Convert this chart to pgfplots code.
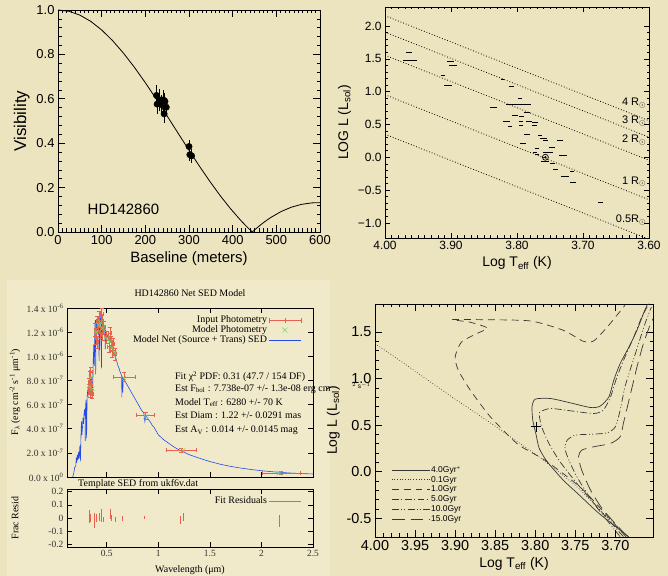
\documentclass[border=0pt]{standalone}
\usepackage{pgfplots}
\pgfplotsset{compat=1.18}
\usepackage{fontspec}
\setmainfont{Liberation Sans}
\newfontfamily\serif{Liberation Serif}
\definecolor{bg}{RGB}{236,227,191}
\definecolor{bgsed}{RGB}{240,233,202}
\definecolor{sedred}{RGB}{232,96,78}
\definecolor{sedblue}{RGB}{35,75,235}
\definecolor{sedgreen}{RGB}{110,215,100}
\definecolor{iso}{RGB}{55,55,55}
\pgfplotsset{
  base/.style={scale only axis, anchor=south west,
    axis line style={black, line width=0.8pt},
    every tick/.style={black, line width=0.6pt},
    tick align=inside,
    /pgf/number format/assume math mode=true},
}
\begin{document}
\begin{tikzpicture}[x=1bp,y=1bp]
\path[use as bounding box] (0,0) rectangle (668,576);
\fill[bg] (0,0) rectangle (668,576);
\fill[bgsed] (7,0) rectangle (330,296);

% ================= SED main =================
\begin{axis}[base, at={(67bp,99bp)}, width=246bp, height=169bp,
  xmin=0.115, xmax=2.5, ymin=0, ymax=14,
  xtick={0.5,1,1.5,2,2.5}, xticklabels={},
  ytick={0,2,4,6,8,10,12,14},
  yticklabels={0.0 x 10\textsuperscript{0},2.0 x 10\textsuperscript{-7},4.0 x 10\textsuperscript{-7},6.0 x 10\textsuperscript{-7},8.0 x 10\textsuperscript{-7},1.0 x 10\textsuperscript{-6},1.2 x 10\textsuperscript{-6},1.4 x 10\textsuperscript{-6}},
  tick label style={font=\serif\fontsize{9.5}{10}\selectfont, text=black!80},
  major tick length=5bp,
  legend style={at={(rel axis cs:0.965,0.975)}, anchor=north east, draw=none, fill=none,
     font=\serif\fontsize{10}{10}\selectfont, row sep=-1.5bp, nodes={inner sep=1.5bp}},
  legend cell align=right, legend plot pos=right,
  legend image code/.code={\draw[#1] (0bp,0bp) -- (32bp,0bp);},
]
\addplot[sedblue, line width=0.6pt, forget plot] coordinates {
(0.17,0.0)(0.18,0.3)(0.19,0.8)(0.20,0.9)(0.205,1.6)(0.21,1.2)(0.215,1.8)(0.22,1.4)(0.225,2.1)(0.23,1.5)
(0.235,1.9)(0.24,2.6)(0.245,1.3)(0.25,3.2)(0.255,4.6)(0.26,3.5)(0.265,4.1)(0.27,4.9)(0.275,4.4)(0.28,5.2)
(0.285,5.6)(0.29,5.1)(0.292,3.0)(0.295,5.9)(0.30,6.4)(0.305,3.2)(0.31,6.6)(0.315,7.1)(0.32,6.8)(0.325,7.4)
(0.33,8.0)(0.335,7.3)(0.34,8.2)(0.345,8.6)(0.35,7.8)(0.355,8.3)(0.36,7.0)(0.365,7.6)(0.37,9.8)(0.375,11.0)
(0.38,9.2)(0.385,12.5)(0.39,13.0)(0.393,8.5)(0.396,12.8)(0.40,13.1)(0.405,12.2)(0.41,12.9)(0.415,11.8)
(0.42,13.0)(0.424,12.4)(0.426,9.6)(0.428,12.9)(0.43,13.2)(0.434,10.5)(0.437,13.0)(0.44,13.3)(0.445,12.8)
(0.448,13.1)(0.45,9.0)(0.452,13.0)(0.455,12.6)(0.46,12.9)(0.47,12.3)(0.48,12.5)(0.486,10.6)(0.49,12.1)
(0.50,11.9)(0.51,11.6)(0.52,11.7)(0.53,11.2)(0.54,11.3)(0.55,10.9)(0.56,10.6)(0.57,10.4)(0.58,10.0)
(0.59,9.8)(0.60,9.5)(0.61,9.2)(0.62,9.0)(0.63,8.7)(0.645,8.4)(0.647,6.6)(0.65,8.3)(0.656,7.0)(0.66,8.2)
(0.68,7.9)(0.70,7.6)(0.72,7.3)(0.74,7.0)(0.76,6.7)(0.78,6.4)(0.80,6.1)(0.82,5.8)(0.84,5.5)(0.86,5.3)
(0.87,4.6)(0.88,5.1)(0.90,4.8)(0.92,4.6)(0.94,4.3)(0.96,4.1)(0.98,3.8)(1.0,3.5)(1.05,3.1)(1.1,2.8)
(1.15,2.5)(1.2,2.25)(1.25,2.05)(1.3,1.85)(1.35,1.7)(1.4,1.55)(1.5,1.28)(1.6,1.06)(1.7,0.88)(1.8,0.74)
(1.9,0.62)(2.0,0.52)(2.1,0.44)(2.2,0.37)(2.3,0.32)(2.4,0.28)(2.5,0.25)};
\addplot[draw=none, mark=none,
  legend image code/.code={\draw[sedred, line width=0.6pt] (0bp,0bp)--(32bp,0bp) (0bp,-2.5bp)--(0bp,2.5bp) (32bp,-2.5bp)--(32bp,2.5bp) (16bp,-2.5bp)--(16bp,2.5bp);},
  error bars/.cd, x dir=both, x explicit, y dir=both, y explicit,
  error bar style={draw=sedred, solid, line width=0.5pt}, error mark options={draw=sedred, rotate=90}]
 coordinates {
(0.325,7.3) +- (0.008,0.4) (0.330,7.8) +- (0.008,0.4) (0.335,8.4) +- (0.008,0.4) (0.338,7.0) +- (0.01,0.4)
(0.345,8.7) +- (0.01,0.4) (0.35,7.6) +- (0.01,0.4) (0.36,6.9) +- (0.01,0.4)
(0.39,12.2) +- (0.01,0.5) (0.40,11.5) +- (0.01,0.5) (0.405,12.8) +- (0.01,0.5) (0.41,11.2) +- (0.012,0.5)
(0.42,12.5) +- (0.012,0.5) (0.43,13.2) +- (0.012,0.5) (0.44,12.0) +- (0.012,0.5) (0.45,13.5) +- (0.012,0.5)
(0.455,12.9) +- (0.012,0.5) (0.46,11.8) +- (0.012,0.5) (0.47,12.4) +- (0.015,0.5) (0.50,11.6) +- (0.015,0.5)
(0.52,10.8) +- (0.015,0.5) (0.53,11.9) +- (0.015,0.5) (0.54,11.2) +- (0.015,0.5) (0.55,10.4) +- (0.015,0.5)
(0.56,11.0) +- (0.015,0.5) (0.58,10.2) +- (0.015,0.5)
(0.668,8.3) +- (0.104,0.4) (0.877,5.1) +- (0.088,0.3) (1.22,2.2) +- (0.145,0.15) (2.19,0.35) +- (0.185,0.1)};
\addlegendentry{Input Photometry}
\addplot[sedgreen, only marks, mark=x, mark size=3bp, line width=0.5pt,
  legend image code/.code={\draw[sedgreen, line width=0.5pt, only marks, mark=x, mark size=3.5bp] plot coordinates {(16bp,0bp)};}] coordinates {
(0.33,7.5)(0.345,8.2)(0.36,7.3)(0.40,12.0)(0.42,12.6)(0.44,12.8)(0.46,12.3)(0.50,11.5)(0.53,11.2)
(0.55,10.7)(0.58,10.3)(0.668,8.2)(0.877,5.0)(1.24,2.2)(2.17,0.33)};
\addlegendentry{Model Photometry}
\addlegendimage{sedblue, line width=0.7pt}
\addlegendentry{Model Net (Source + Trans) SED}
\end{axis}
\node[font=\serif\fontsize{10}{10}\selectfont] at (190,283) {HD142860 Net SED Model};
\node[rotate=90, font=\serif\fontsize{10}{10}\selectfont] at (15,184) {F\textsubscript{λ} (erg cm\textsuperscript{-2} s\textsuperscript{-1} μm\textsuperscript{-1})};
\begin{scope}[every node/.style={anchor=base west, font=\serif\fontsize{10}{10}\selectfont, inner sep=0}]
\node at (175,196) {Fit χ\textsuperscript{2} PDF: 0.31 (47.7 / 154 DF)};
\node at (175,184.5) {Est F\textsubscript{bol} : 7.738e-07 +/- 1.3e-08 erg cm\textsuperscript{-2} s\textsuperscript{-1}};
\node at (175,170.5) {Model T\textsubscript{eff} : 6280 +/- 70 K};
\node at (175,157) {Est Diam : 1.22 +/- 0.0291 mas};
\node at (175,143.3) {Est A\textsubscript{V} : 0.014 +/- 0.0145 mag};
\node at (78,89) {Template SED from ukf6v.dat};
\end{scope}

% ================= residuals =================
\begin{axis}[base, at={(67bp,29bp)}, width=246bp, height=58bp,
  xmin=0.115, xmax=2.5, ymin=-0.22, ymax=0.22,
  xtick={0.5,1,1.5,2,2.5}, xticklabels={0.5,1,1.5,2,2.5},
  ytick={-0.2,-0.1,0,0.1,0.2}, yticklabels={-0.2,-0.1,0,0.1,0.2},
  tick label style={font=\serif\fontsize{9.5}{10}\selectfont, text=black!80},
  major tick length=5bp,
  legend style={at={(rel axis cs:0.965,0.93)}, anchor=north east, draw=none, fill=none,
     font=\serif\fontsize{10}{10}\selectfont, nodes={inner sep=1.5bp}},
  legend cell align=right, legend plot pos=right,
  legend image code/.code={\draw[sedred, line width=0.6pt] (0bp,0bp) -- (32bp,0bp);},
]
\addplot[draw=none, mark=none, error bars/.cd, y dir=both, y explicit, error mark=none,
  error bar style={draw=sedred, solid, line width=0.8pt}] coordinates {
(0.33,0.01) +- (0,0.05) (0.345,0.0) +- (0,0.03) (0.385,-0.02) +- (0,0.055) (0.40,0.0) +- (0,0.03)
(0.43,0.01) +- (0,0.03) (0.45,0.02) +- (0,0.05) (0.47,-0.01) +- (0,0.02) (0.535,0.03) +- (0,0.04)
(0.55,0.0) +- (0,0.02) (0.58,-0.01) +- (0,0.02) (0.65,-0.005) +- (0,0.02) (0.87,0.005) +- (0,0.01)
(1.21,-0.015) +- (0,0.03) (1.245,0.005) +- (0,0.03) (2.17,-0.025) +- (0,0.045)};
\addlegendentry{Fit Residuals}
\end{axis}
\node[font=\serif\fontsize{10}{10}\selectfont] at (190,6) {Wavelength (μm)};
\node[rotate=90, font=\serif\fontsize{10}{10}\selectfont] at (15,58) {Frac Resid};

% ================= bottom-right isochrones =================
\fill[bg] (330,0) rectangle (668,296);
\begin{axis}[base, at={(375bp,39bp)}, width=278bp, height=233bp,
  x dir=reverse, xmin=3.653, xmax=4.0, ymin=-0.7, ymax=1.8,
  xtick={3.70,3.75,3.80,3.85,3.90,3.95,4.00}, ytick={-0.5,0,0.5,1,1.5},
  xticklabel style={/pgf/number format/.cd, fixed, fixed zerofill, precision=2},
  yticklabel style={/pgf/number format/.cd, fixed, fixed zerofill, precision=1},
  minor tick num=4, major tick length=7bp, minor tick length=3.5bp,
  tick label style={font=\fontsize{14.5}{14.5}\selectfont},
  label style={font=\fontsize{14}{14}\selectfont},
  xlabel={Log T\textsubscript{eff} (K)}, ylabel={Log L (L\textsubscript{sol})},
  legend style={at={(rel axis cs:0.047,0.318)}, anchor=north west, draw=none, fill=none,
     font=\fontsize{8.5}{9}\selectfont, row sep=0bp, nodes={inner sep=1.2bp}},
  legend cell align=left,
  legend image code/.code={\draw[#1] (0bp,0bp) -- (38bp,0bp);},
]
\addplot[iso, line width=0.7pt, smooth, tension=0.4] coordinates {
(3.683,-0.70)(3.72,-0.45)(3.745,-0.25)(3.765,-0.09)(3.785,0.107)(3.795,0.25)(3.799,0.40)(3.803,0.55)
(3.804,0.696)(3.800,0.779)(3.781,0.786)(3.756,0.739)(3.731,0.689)(3.719,0.704)(3.708,0.804)(3.702,0.982)
(3.694,1.161)(3.683,1.339)(3.673,1.518)(3.665,1.696)(3.660,1.796)};
\addlegendentry{4.0Gyr$^*$}
\addplot[iso, line width=0.7pt, dash pattern=on 0.7pt off 2pt, smooth] coordinates {
(4.00,1.375)(3.965,1.17)(3.931,0.964)(3.90,0.78)(3.867,0.589)(3.831,0.375)(3.790,0.125)(3.748,-0.161)
(3.715,-0.446)(3.685,-0.69)};
\addlegendentry{0.1Gyr}
\addplot[iso, line width=0.7pt, dash pattern=on 7pt off 5pt, smooth, tension=0.4] coordinates {
(3.687,-0.696)(3.740,-0.196)(3.785,0.107)(3.806,0.214)(3.823,0.304)(3.856,0.589)(3.881,0.875)(3.896,1.089)
(3.900,1.232)(3.892,1.393)(3.873,1.482)(3.860,1.543)(3.881,1.604)(3.904,1.632)(3.869,1.632)(3.806,1.618)
(3.765,1.518)(3.740,1.400)(3.727,1.404)(3.710,1.554)(3.688,1.786)};
\addlegendentry{1.0Gyr}
\addplot[iso, line width=0.7pt, dash pattern=on 7pt off 2.5pt on 1pt off 2.5pt, smooth, tension=0.4] coordinates {
(3.690,-0.696)(3.723,-0.375)(3.748,-0.125)(3.769,0.107)(3.783,0.304)(3.792,0.482)(3.795,0.607)(3.794,0.643)
(3.781,0.679)(3.756,0.654)(3.727,0.625)(3.715,0.661)(3.706,0.804)(3.698,1.018)(3.688,1.232)(3.677,1.446)
(3.667,1.661)(3.658,1.804)};
\addlegendentry{5.0Gyr}
\addplot[iso, line width=0.7pt, dash pattern=on 7pt off 2.5pt on 1pt off 2pt on 1pt off 2.5pt, smooth, tension=0.4] coordinates {
(3.694,-0.696)(3.727,-0.339)(3.748,-0.054)(3.758,0.125)(3.763,0.25)(3.760,0.339)(3.750,0.393)(3.727,0.404)
(3.710,0.418)(3.700,0.482)(3.694,0.661)(3.688,0.911)(3.679,1.161)(3.671,1.375)(3.663,1.589)(3.655,1.768)};
\addlegendentry{10.0Gyr}
\addplot[iso, line width=0.7pt, dash pattern=on 13pt off 6pt, smooth, tension=0.4] coordinates {
(3.685,-0.696)(3.715,-0.411)(3.731,-0.196)(3.742,0.018)(3.746,0.161)(3.742,0.232)(3.727,0.268)(3.706,0.304)
(3.694,0.375)(3.690,0.518)(3.685,0.696)(3.679,0.911)(3.673,1.125)(3.665,1.375)(3.656,1.589)(3.653,1.64)};
\addlegendentry{15.0Gyr}
\addplot[black, only marks, mark=+, mark size=5bp, line width=0.7pt, forget plot] coordinates {(3.7988,0.482)};
\end{axis}
\node[font=\fontsize{6.5}{7}\selectfont, anchor=west, inner sep=0] at (352,190) {$^{2}$ s$^{-1}$};

% ================= top-left visibility =================
\begin{axis}[base, at={(58bp,344bp)}, width=262bp, height=222bp,
  xmin=0, xmax=600, ymin=0, ymax=1,
  xtick={0,100,200,300,400,500,600}, ytick={0,0.2,0.4,0.6,0.8,1.0},
  minor x tick num=9, minor y tick num=4,
  major tick length=7bp, minor tick length=3.5bp,
  yticklabel style={/pgf/number format/.cd, fixed, fixed zerofill, precision=1},
  tick label style={font=\fontsize{13}{13}\selectfont},
  xlabel={Baseline (meters)}, ylabel={Visibility},
  xlabel style={font=\fontsize{15}{15}\selectfont},
  ylabel style={font=\fontsize{17}{17}\selectfont},
]
\addplot[black, line width=0.8pt] coordinates {
(0,1)(25,0.9942)(50,0.9770)(75,0.9488)(100,0.9101)(125,0.8620)(150,0.8055)(175,0.7418)(200,0.6724)
(225,0.5987)(250,0.5224)(275,0.4450)(300,0.3681)(325.2,0.2926)(348.4,0.2261)(371.6,0.1633)(394.9,0.1054)
(418.1,0.0531)(429.7,0.0291)(441.3,0.0067)(445,0)(452.9,0.0140)(464.5,0.0330)(476.2,0.0504)(487.8,0.0660)
(511.0,0.0922)(534.2,0.1116)(557.5,0.1244)(580.7,0.1310)(600,0.1322)};
\addplot[black, only marks, mark=*, mark size=3.2bp, error bars/.cd, y dir=both, y explicit,
  error mark=none, error bar style={line width=1pt}] coordinates {
(225.5,0.615) +- (0,0.045) (227,0.576) +- (0,0.045) (233,0.595) +- (0,0.05) (237,0.573) +- (0,0.045)
(241,0.595) +- (0,0.045) (245,0.588) +- (0,0.04) (248,0.562) +- (0,0.04) (243,0.532) +- (0,0.04)
(300,0.385) +- (0,0.03) (302,0.348) +- (0,0.03) (306,0.343) +- (0,0.03)};
\node[anchor=west, font=\fontsize{15}{15}\selectfont] at (axis cs:60,0.10) {HD142860};
\end{axis}

% ================= top-right HR diagram =================
\begin{axis}[base, at={(385bp,338bp)}, width=264bp, height=231bp,
  x dir=reverse, xmin=3.6, xmax=4.0, ymin=-1.23, ymax=2.29,
  xtick={3.6,3.7,3.8,3.9,4.0}, ytick={-1,-0.5,0,0.5,1,1.5,2},
  yticklabels={−1.0,−0.5,0.0,0.5,1.0,1.5,2.0},
  xticklabel style={/pgf/number format/.cd, fixed, fixed zerofill, precision=2},
  minor x tick num=9, minor y tick num=4,
  major tick length=5bp, minor tick length=2.5bp,
  tick label style={font=\fontsize{12}{12}\selectfont},
  label style={font=\fontsize{14}{14}\selectfont},
  xlabel={Log T\textsubscript{eff} (K)}, ylabel={LOG L (L\textsubscript{sol})},
]
\addplot[black, line width=0.8pt, dash pattern=on 0.8pt off 2pt] coordinates {(4.0,2.157)(3.6,0.557)};
\addplot[black, line width=0.8pt, dash pattern=on 0.8pt off 2pt] coordinates {(4.0,1.907)(3.6,0.307)};
\addplot[black, line width=0.8pt, dash pattern=on 0.8pt off 2pt] coordinates {(4.0,1.555)(3.6,-0.045)};
\addplot[black, line width=0.8pt, dash pattern=on 0.8pt off 2pt] coordinates {(4.0,0.953)(3.6,-0.647)};
\addplot[black, line width=0.8pt, dash pattern=on 0.8pt off 2pt] coordinates {(4.0,0.351)(3.6,-1.249)};
\addplot[draw=none, mark=none, error bars/.cd, x dir=both, x explicit, error mark=none,
  error bar style={draw=black, solid, line width=1pt}] coordinates {
(3.9636,1.597) +- (0.004,0) (3.962,1.469) +- (0.01,0) (3.912,1.25) +- (0.003,0) (3.9005,1.454) +- (0.005,0)
(3.8975,1.403) +- (0.006,0) (3.905,1.087) +- (0.006,0) (3.822,1.189) +- (0.003,0) (3.808,1.071) +- (0.004,0)
(3.836,0.755) +- (0.005,0) (3.795,0.903) +- (0.003,0) (3.798,0.806) +- (0.019,0) (3.803,0.638) +- (0.005,0)
(3.793,0.617) +- (0.004,0) (3.785,0.679) +- (0.004,0) (3.816,0.551) +- (0.005,0) (3.811,0.464) +- (0.003,0)
(3.794,0.546) +- (0.003,0) (3.794,0.485) +- (0.003,0) (3.782,0.546) +- (0.004,0) (3.773,0.536) +- (0.005,0)
(3.774,0.485) +- (0.004,0) (3.785,0.347) +- (0.004,0) (3.791,0.209) +- (0.005,0) (3.765,0.332) +- (0.003,0)
(3.760,0.281) +- (0.005,0) (3.757,0.260) +- (0.004,0) (3.735,0.260) +- (0.005,0) (3.769,0.128) +- (0.003,0)
(3.773,0.077) +- (0.003,0) (3.769,0.041) +- (0.003,0) (3.756,0.066) +- (0.004,0) (3.747,0.143) +- (0.005,0)
(3.750,0.066) +- (0.004,0) (3.730,0.031) +- (0.006,0) (3.758,-0.071) +- (0.006,0) (3.746,-0.092) +- (0.004,0)
(3.742,-0.189) +- (0.004,0) (3.727,-0.291) +- (0.006,0) (3.717,-0.214) +- (0.003,0) (3.715,-0.383) +- (0.004,0)
(3.673,-0.684) +- (0.004,0)};
\addplot[black, only marks, mark=o, mark size=3bp, line width=0.7pt] coordinates {(3.757,0.0)};
\addplot[black, only marks, mark=*, mark size=0.9bp] coordinates {(3.757,0.0)};
\begin{scope}[every node/.style={anchor=base east, font=\fontsize{11}{11}\selectfont, inner sep=0}]
\node at (axis cs:3.604,0.79) {4 R$_\odot$};
\node at (axis cs:3.604,0.51) {3 R$_\odot$};
\node at (axis cs:3.604,0.22) {2 R$_\odot$};
\node at (axis cs:3.604,-0.41) {1 R$_\odot$};
\node at (axis cs:3.604,-1.0) {0.5R$_\odot$};
\end{scope}
\end{axis}
\end{tikzpicture}
\end{document}
